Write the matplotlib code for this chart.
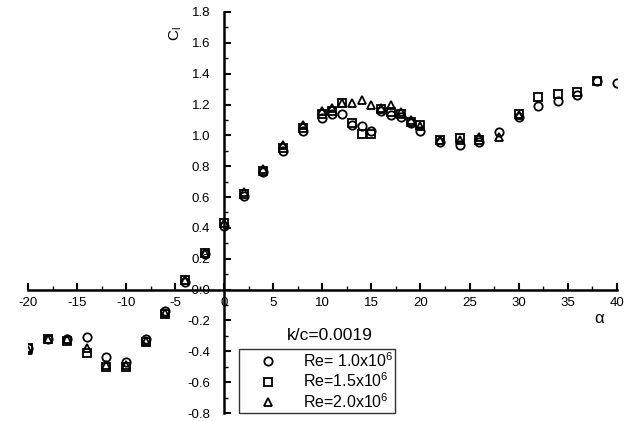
import numpy as np
import matplotlib.pyplot as plt
from matplotlib.ticker import MultipleLocator

plt.rcParams['font.family'] = ['Liberation Sans', 'DejaVu Sans']
plt.rcParams['mathtext.fontset'] = 'custom'
plt.rcParams['mathtext.rm'] = 'Liberation Sans'
plt.rcParams['mathtext.it'] = 'Liberation Sans:italic'

# lift coefficient vs angle of attack, k/c = 0.0019
alpha_re10 = [-20, -18, -16, -14, -12, -10, -8, -6, -4, -2, 0, 2, 4, 6, 8,
              10, 11, 12, 13, 14, 15, 16, 17, 18, 19, 20, 22, 24, 26, 28,
              30, 32, 34, 36, 38, 40]
cl_re10 = [-0.38, -0.32, -0.32, -0.31, -0.44, -0.47, -0.32, -0.14, 0.05, 0.23,
           0.41, 0.61, 0.76, 0.90, 1.03, 1.11, 1.14, 1.14, 1.07, 1.06, 1.03,
           1.16, 1.13, 1.12, 1.08, 1.03, 0.96, 0.94, 0.96, 1.02, 1.12, 1.19,
           1.22, 1.26, 1.35, 1.34]

alpha_re15 = [-20, -18, -16, -14, -12, -10, -8, -6, -4, -2, 0, 2, 4, 6, 8,
              10, 11, 12, 13, 14, 15, 16, 17, 18, 19, 20, 22, 24, 26,
              30, 32, 34, 36, 38]
cl_re15 = [-0.38, -0.32, -0.33, -0.41, -0.50, -0.50, -0.34, -0.16, 0.06, 0.24,
           0.43, 0.62, 0.77, 0.92, 1.05, 1.14, 1.16, 1.21, 1.08, 1.01, 1.01,
           1.17, 1.15, 1.14, 1.09, 1.07, 0.97, 0.98, 0.97, 1.14, 1.25, 1.27,
           1.28, 1.35]

alpha_re20 = [-20, -18, -16, -14, -12, -10, -8, -6, -4, -2, 0, 2, 4, 6, 8,
              10, 11, 12, 13, 14, 15, 16, 17, 18, 19, 20, 22, 24, 26, 28, 30]
cl_re20 = [-0.39, -0.32, -0.32, -0.38, -0.49, -0.49, -0.33, -0.15, 0.06, 0.24,
           0.43, 0.63, 0.78, 0.94, 1.07, 1.16, 1.18, 1.21, 1.21, 1.23, 1.20,
           1.18, 1.20, 1.15, 1.10, 1.06, 0.97, 0.97, 0.99, 0.99, 1.13]

y_ticks = np.round(np.arange(-0.8, 1.81, 0.2), 1)
y_labels = ['-0.0' if v == 0 else '%.1f' % v for v in y_ticks]
x_ticks = np.arange(-20, 41, 5)


def main():
    fig = plt.figure(figsize=(6.29, 4.21), dpi=100)
    ax = fig.add_axes([0.0445, 0.019, 0.936, 0.9525])

    style = dict(linestyle='none', markerfacecolor='none',
                 markeredgecolor='black', markeredgewidth=1.3, markersize=6)
    ax.plot(alpha_re10, cl_re10, marker='o', label='Re= 1.0x10$^6$', **style)
    ax.plot(alpha_re15, cl_re15, marker='s', label='Re=1.5x10$^6$', **style)
    ax.plot(alpha_re20, cl_re20, marker='^', label='Re=2.0x10$^6$', **style)

    ax.set_xlim(-20, 40)
    ax.set_ylim(-0.8, 1.8)

    # axes cross at the origin
    ax.spines['left'].set_position(('data', 0))
    ax.spines['bottom'].set_position(('data', 0))
    ax.spines['top'].set_visible(False)
    ax.spines['right'].set_visible(False)
    for s in ('left', 'bottom'):
        ax.spines[s].set_linewidth(1.8)

    ax.set_xticks(x_ticks)
    ax.set_xticklabels([str(v) for v in x_ticks])
    ax.set_yticks(y_ticks)
    ax.set_yticklabels(y_labels)
    ax.xaxis.set_minor_locator(MultipleLocator(2.5))
    ax.yaxis.set_minor_locator(MultipleLocator(0.1))
    ax.tick_params(which='both', direction='in', width=1.5, labelsize=9.5)
    ax.tick_params(which='major', length=5)
    ax.tick_params(which='minor', length=3, width=1)
    ax.tick_params(axis='x', pad=5)
    ax.tick_params(axis='y', pad=10)

    ax.text(-4.9, 1.66, 'C$_\\mathregular{l}$', fontsize=11, rotation=90,
            ha='center', va='center')
    ax.text(38.2, -0.19, '\u03b1', fontsize=12, ha='center', va='center')
    ax.text(10.8, -0.30, 'k/c=0.0019', fontsize=12.5, ha='center', va='center')

    leg = ax.legend(loc='upper left', bbox_to_anchor=(0.358, 0.16),
                    fontsize=11.5, frameon=True, fancybox=False,
                    edgecolor='black', handletextpad=0.55, borderpad=0.15,
                    labelspacing=0.1, handlelength=3.3, borderaxespad=0)
    leg.get_frame().set_linewidth(1.0)

    fig.savefig('out.png', dpi=100)


if __name__ == '__main__':
    main()
